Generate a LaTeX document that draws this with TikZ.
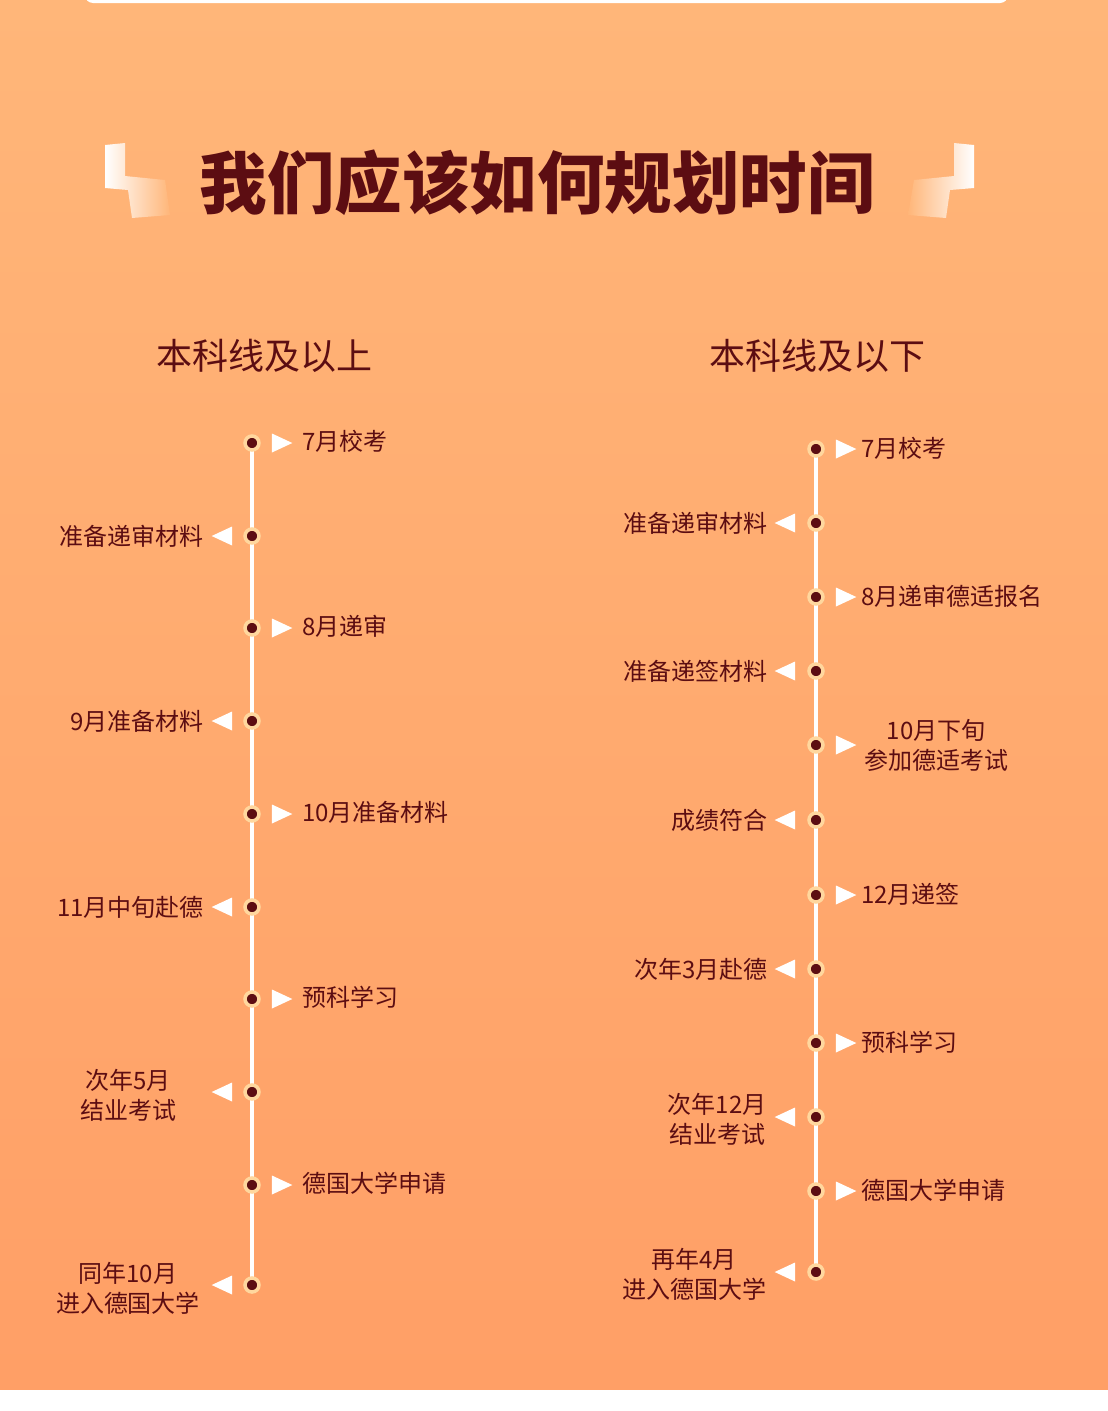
\documentclass[tikz,border=0pt]{standalone}
\usepackage{fontspec}
\setmainfont{Noto Sans CJK SC}
\usepackage{tikz}
\usetikzlibrary{shapes.geometric, positioning, calc}
\definecolor{txtred}{HTML}{5C0D12}
\definecolor{bgtop}{HTML}{FFB679}
\definecolor{bgbot}{HTML}{FF9F66}
\definecolor{ringc}{HTML}{FFD79E}
\begin{document}
\begin{tikzpicture}[x=1pt,y=-1pt,
  dot node/.style={circle,fill=txtred,draw=ringc,line width=3.5pt,inner sep=0pt,minimum size=14pt},
  tri node/.style={isosceles triangle,isosceles triangle apex angle=50,fill=white,inner sep=0pt,minimum height=8pt,minimum width=19pt},
  lab node/.style={text=txtred,font=\fontsize{24}{30}\selectfont,align=center,inner sep=0pt},
  head node/.style={text=txtred,font=\fontsize{36}{42}\selectfont,inner sep=0pt}]
  \useasboundingbox (0,0) rectangle (1108,1411);
  \shade[top color=bgtop,bottom color=bgbot] (0,0) rectangle (1108,1390);
  \fill[white] (0,1390) rectangle (1108,1411);
  \fill[white,rounded corners=8pt] (85,-20) rectangle (1008,3);
  % title
  \node[text=txtred,font=\bfseries\fontsize{67.5}{70}\selectfont,inner sep=0pt] (title) at (537,183) {我们应该如何规划时间};
  \shade[left color=white,right color=bgtop] (105,145) -- (125,143) -- (125,176) -- (165,180) -- (170,215) -- (132,218) -- (128,190) -- (105,188) -- cycle;
  \shade[right color=white,left color=bgtop] (974,145) -- (954,143) -- (954,176) -- (914,180) -- (908,215) -- (946,218) -- (950,190) -- (974,188) -- cycle;
  \node[head node] (hl) at (264,356) {本科线及以上};
  \node[head node] (hr) at (817,356) {本科线及以下};
  % left column
  \coordinate (ltop) at (252,443);
  \coordinate (lbot) at (252,1285);
  \draw[white,line width=4pt] (ltop) -- (lbot);
  \foreach \y/\t/\s [count=\i] in {443/7月校考/r,536/准备递审材料/l,628/8月递审/r,721/9月准备材料/l,
    814/10月准备材料/r,907/11月中旬赴德/l,999/预科学习/r,1092/{次年5月\\结业考试}/c,
    1185/德国大学申请/r,1285/{同年10月\\进入德国大学}/c}{
    \node[dot node] (ld\i) at (252,\y) {};
    \if\s r
      \node[tri node] (lt\i) at (278,\y) {};
      \node[lab node,anchor=west] (ll\i) at (302,\y-2) {\t};
    \else
      \node[tri node,shape border rotate=180] (lt\i) at (226,\y) {};
      \if\s c
        \node[lab node] (ll\i) at (128,\y+3) {\t};
      \else
        \node[lab node,anchor=east] (ll\i) at (204,\y) {\t};
      \fi
    \fi
  }
  % right column
  \coordinate (rtop) at (816,449);
  \coordinate (rbot) at (816,1272);
  \draw[white,line width=4pt] (rtop) -- (rbot);
  \foreach \y/\t/\s/\cx [count=\i] in {449/7月校考/r/0,523/准备递审材料/l/0,597/8月递审德适报名/r/0,671/准备递签材料/l/0,
    745/{10月下旬\\参加德适考试}/c/936,820/成绩符合/l/0,895/12月递签/r/0,969/次年3月赴德/l/0,
    1043/预科学习/r/0,1117/{次年12月\\结业考试}/d/717,1191/德国大学申请/r/0,1272/{再年4月\\进入德国大学}/d/694}{
    \node[dot node] (rd\i) at (816,\y) {};
    \if\s r
      \node[tri node] (rt\i) at (842,\y) {};
      \node[lab node,anchor=west] (rl\i) at (861,\y-1) {\t};
    \else\if\s c
      \node[tri node] (rt\i) at (842,\y) {};
      \node[lab node] (rl\i) at (\cx,\y) {\t};
    \else\if\s d
      \node[tri node,shape border rotate=180] (rt\i) at (789,\y) {};
      \node[lab node] (rl\i) at (\cx,\y+2) {\t};
    \else
      \node[tri node,shape border rotate=180] (rt\i) at (789,\y) {};
      \node[lab node,anchor=east] (rl\i) at (768,\y) {\t};
    \fi\fi\fi
  }
\end{tikzpicture}
\end{document}
